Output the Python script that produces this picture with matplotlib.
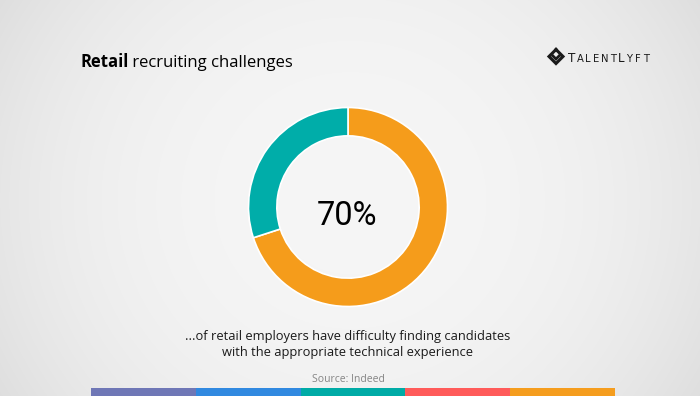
import matplotlib.pyplot as plt
import numpy as np

# data
shares = [70, 30]
share_colors = ['#F59C1B', '#00ADA9']
center_label = '70%'
title_bold = 'Retail'
title_rest = ' recruiting challenges'
caption_lines = ['...of retail employers have difficulty finding candidates',
                 'with the appropriate technical experience']
source = 'Source: Indeed'
logo_letters = 'TALENTLYFT'
logo_big = [True, False, False, False, False, False, True, False, False, False]
stripe_colors = ['#6F77B6', '#3189E0', '#00ABA6', '#FF5B5A', '#F59D1E']
stripe_values = [1, 1, 1, 1, 1]

W, H = 700, 396
fig = plt.figure(figsize=(W / 100, H / 100), dpi=100)

# soft radial background
bg = fig.add_axes([0, 0, 1, 1])
yy, xx = np.mgrid[0:H, 0:W]
r2 = ((xx - 350) / 350.0) ** 2 + ((yy - 200) / 330.0) ** 2
shade = 0.962 - 0.06 * r2 ** 1.3
bg.imshow(np.dstack([shade] * 3), extent=[0, W, H, 0], aspect='auto',
          interpolation='bilinear')
bg.set_xlim(0, W)
bg.set_ylim(H, 0)
bg.axis('off')

# overlay in pixel coordinates for texts and logo
ov = fig.add_axes([0, 0, 1, 1], facecolor='none')
ov.set_xlim(0, W)
ov.set_ylim(H, 0)
ov.axis('off')

t1 = ov.text(80, 67, title_bold, fontsize=12, fontweight='bold',
             family='Open Sans', color='#000000', va='baseline')
ov.annotate(title_rest, xy=(1, 0), xycoords=t1, fontsize=12,
            family='Open Sans', color='#000000', va='bottom')

for i, line in enumerate(caption_lines):
    ov.text(348, 340 + 16 * i, line, fontsize=9.3, family='Open Sans',
            color='#1a1a1a', ha='center', va='baseline')
ov.text(348, 382, source, fontsize=7.5, family='Open Sans', color='#858585',
        ha='center', va='baseline')

# logo icon
cx, cy, s = 556, 56.5, 7
ov.plot([cx, cx + s, cx, cx - s, cx], [cy - s, cy, cy + s, cy, cy - s],
        color='#1a1a1a', lw=2.2, solid_joinstyle='miter')
ov.plot([cx - 3, cx, cx + 3], [cy - 0.5, cy + 2.5, cy - 0.5],
        color='#1a1a1a', lw=2.0, solid_joinstyle='miter')

# logo text, spaced small caps
for i, (ch, big) in enumerate(zip(logo_letters, logo_big)):
    ov.text(571.7 + 8.25 * i, 62.5, ch, fontsize=8.6 if big else 7.2,
            family='DejaVu Sans', color='#1a1a1a', ha='center', va='baseline')

# donut
R = 100.5
dx, dy = 348, 207
ax = fig.add_axes([(dx - R) / W, (H - dy - R) / H, 2 * R / W, 2 * R / H])
ax.pie(shares, colors=share_colors, startangle=90, counterclock=False,
       radius=1, wedgeprops=dict(width=0.285, edgecolor='white', linewidth=1.2))
ax.set_xlim(-1.01, 1.01)
ax.set_ylim(-1.01, 1.01)
ov.text(346.5, 225, center_label, fontsize=23.5, family='Roboto',
        color='#000000', ha='center', va='baseline')

# bottom colour stripe
sb = fig.add_axes([91 / W, 0, 524 / W, 8 / H])
sb.bar(range(len(stripe_values)), stripe_values, width=1, color=stripe_colors)
sb.set_xlim(-0.5, len(stripe_values) - 0.5)
sb.set_ylim(0, 1)
sb.axis('off')

fig.savefig('out.png', dpi=100)
